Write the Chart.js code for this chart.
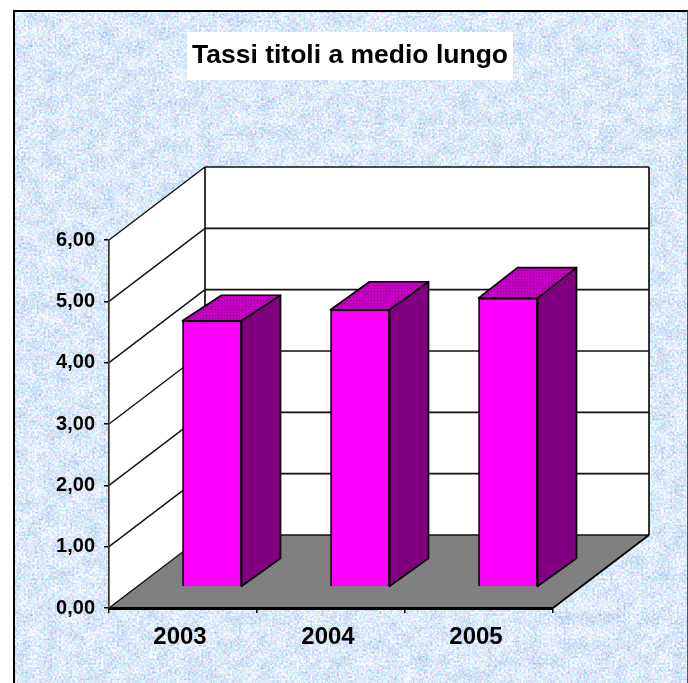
<!DOCTYPE html>
<html><head><meta charset="utf-8">
<style>
html,body{margin:0;padding:0;background:#fff;width:688px;height:683px;overflow:hidden}
#bg{position:absolute;left:13px;top:10px;width:675px;height:673px;border-left:2px solid #000;border-top:2px solid #000;border-right:1px solid #555;box-sizing:border-box;overflow:hidden}
#bg svg{display:block}
#c{position:absolute;left:0;top:0;filter:blur(0.45px)}
</style>
<script src="https://cdn.jsdelivr.net/npm/chart.js@4"></script>
</head><body>
<div id="bg"><svg width="675" height="673" xmlns="http://www.w3.org/2000/svg">
<filter id="marble" x="0" y="0" width="100%" height="100%" color-interpolation-filters="sRGB">
<feTurbulence type="fractalNoise" baseFrequency="0.45" numOctaves="2" seed="7" result="fineRaw"/>
<feColorMatrix in="fineRaw" type="matrix" values="1 0 0 0 0  0 1 0 0 0  0 0 1 0 0  0 0 0 0 1" result="fine"/>
<feTurbulence type="fractalNoise" baseFrequency="0.07" numOctaves="2" seed="11" result="bigRaw"/>
<feColorMatrix in="bigRaw" type="matrix" values="1 0 0 0 0  1 0 0 0 0  1 0 0 0 0  0 0 0 0 1" result="big"/>
<feComposite in="fine" in2="big" operator="arithmetic" k1="0" k2="0.8" k3="0.2" k4="0"/>
<feColorMatrix type="matrix" values="0.8 0.15 0 0 0.38  0.1 0.6 0 0 0.565  0 0.1 0.3 0 0.78  0 0 0 0 1"/>
</filter>
<rect width="675" height="673" filter="url(#marble)"/>
</svg></div>
<canvas id="c" width="688" height="683"></canvas>
<script>
const titleText = 'Tassi titoli a medio lungo';
const categories = ['2003', '2004', '2005'];
const rates = [4.34, 4.52, 4.71];
const yTickLabels = ['0,00', '1,00', '2,00', '3,00', '4,00', '5,00', '6,00'];

const FONT = "'Liberation Sans', Arial, sans-serif";
const wallDepth = {x: 96, y: -73};
const barShift = {x: 29, y: -21};
const barDepth = {x: 39, y: -28};

const dither = document.createElement('canvas');
dither.width = dither.height = 3;
(function () {
  const d = dither.getContext('2d');
  d.fillStyle = '#c400c4';
  d.fillRect(0, 0, 3, 3);
  d.fillStyle = '#8a008a';
  d.fillRect(0, 0, 1, 1);
})();

function poly(ctx, pts, fill, stroke, lw) {
  ctx.beginPath();
  pts.forEach((p, i) => i ? ctx.lineTo(p[0], p[1]) : ctx.moveTo(p[0], p[1]));
  ctx.closePath();
  if (fill) { ctx.fillStyle = fill; ctx.fill(); }
  if (stroke) { ctx.strokeStyle = stroke; ctx.lineWidth = lw; ctx.lineJoin = 'round'; ctx.stroke(); }
}
function seg(ctx, a, b, color, lw) {
  ctx.beginPath(); ctx.moveTo(a[0], a[1]); ctx.lineTo(b[0], b[1]);
  ctx.strokeStyle = color; ctx.lineWidth = lw; ctx.stroke();
}

const box3d = {
  id: 'box3d',
  afterLayout(chart) {
    chart.titleBlock.left = 20;
    chart.titleBlock.right = 680;
  },
  beforeDraw(chart) {
    const ctx = chart.ctx, a = chart.chartArea, ys = chart.scales.y, d = wallDepth;
    const L = a.left, R = a.right, T = a.top, B = a.bottom;
    ctx.save();
    // title plate
    ctx.font = 'bold 26.5px ' + FONT;
    const w = ctx.measureText(titleText).width;
    const tb = chart.titleBlock;
    ctx.fillStyle = '#fff';
    ctx.fillRect((tb.left + tb.right) / 2 - w / 2 - 5, 32, w + 10, 48);
    // walls and floor
    poly(ctx, [[L, B], [L, T], [L + d.x, T + d.y], [L + d.x, B + d.y]], '#fff');
    ctx.fillStyle = '#fff';
    ctx.fillRect(L + d.x, T + d.y, R - L, B - T);
    poly(ctx, [[L, B], [L + d.x, B + d.y], [R + d.x, B + d.y], [R, B]], '#808080');
    // gridlines across both walls
    ys.ticks.forEach(t => {
      const y = ys.getPixelForValue(t.value);
      seg(ctx, [L, y], [L + d.x, y + d.y], '#111', 1.4);
      seg(ctx, [L + d.x, y + d.y], [R + d.x, y + d.y], '#111', 1.7);
    });
    // wall edges
    seg(ctx, [L + d.x, T + d.y], [L + d.x, B + d.y], '#111', 1.7);
    seg(ctx, [R + d.x, T + d.y], [R + d.x, B + d.y], '#111', 1.7);
    seg(ctx, [R, B], [R + d.x, B + d.y], '#000', 1.7);
    ctx.restore();
  },
  beforeDatasetDraw(chart) {
    chart.ctx.save();
    chart.ctx.translate(barShift.x, barShift.y);
  },
  afterDatasetDraw(chart, args) {
    const ctx = chart.ctx, meta = args.meta, dp = barDepth;
    meta.data.forEach((bar, i) => {
      const p = bar.getProps(['x', 'y', 'base', 'width'], true);
      const xl = p.x - p.width / 2, xr = p.x + p.width / 2;
      // the top's rear edge rises a little more for taller bars, as in the source render
      const rise = dp.y - (rates[i] - rates[1]) * 13.5;
      poly(ctx, [[xr, p.y], [xr + dp.x, p.y + rise], [xr + dp.x, p.base + dp.y], [xr, p.base]], '#800080', '#000', 1.7);
      poly(ctx, [[xl, p.y], [xl + dp.x, p.y + rise], [xr + dp.x, p.y + rise], [xr, p.y]],
        ctx.createPattern(dither, 'repeat'), '#000', 1.7);
    });
    ctx.restore();
  }
};

new Chart(document.getElementById('c'), {
  type: 'bar',
  plugins: [box3d],
  data: {
    labels: categories,
    datasets: [{
      data: rates,
      backgroundColor: '#ff00ff',
      borderColor: '#000',
      borderWidth: 1.7,
      barThickness: 59,
      clip: false
    }]
  },
  options: {
    responsive: false,
    animation: false,
    layout: {padding: {left: 20, right: 135, top: 0, bottom: 0}},
    plugins: {
      legend: {display: false},
      tooltip: {enabled: false},
      title: {
        display: true,
        text: titleText,
        fullSize: false,
        color: '#000',
        font: {family: FONT, size: 26.5, weight: 'bold', lineHeight: 1.2},
        padding: {top: 40, bottom: 168.2}
      }
    },
    scales: {
      x: {
        afterFit(s) { s.height = 75; },
        grid: {drawOnChartArea: false, color: '#000', tickLength: 5, lineWidth: 1.5},
        border: {color: '#000', width: 3},
        ticks: {color: '#000', font: {family: FONT, size: 24, weight: 'bold'}, padding: 10, labelOffset: -3, maxRotation: 0}
      },
      y: {
        min: 0, max: 6,
        afterFit(s) { s.width = 89; },
        grid: {drawOnChartArea: false, color: '#000', tickLength: 5, lineWidth: 1.5},
        border: {color: '#333', width: 1.7},
        ticks: {
          stepSize: 1,
          color: '#000',
          font: {family: FONT, size: 20, weight: 'bold'},
          padding: 9,
          callback: (v, i) => yTickLabels[i]
        }
      }
    }
  }
});
</script>
</body></html>
